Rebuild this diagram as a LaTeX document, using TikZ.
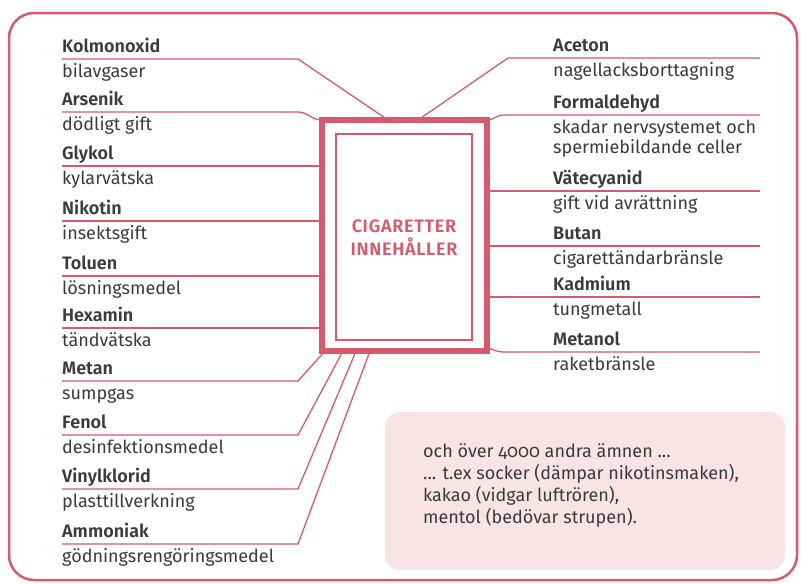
\documentclass[tikz,border=0pt]{standalone}
\usepackage{fontspec}
\setmainfont{Fira Sans}[Numbers=OldStyle, BoldFont={Fira Sans SemiBold}]
\usetikzlibrary{calc}

\definecolor{cigred}{HTML}{D6596C}
\definecolor{ink}{HTML}{3A3A3C}
\definecolor{notepink}{HTML}{F8E4E7}

\begin{document}
\begin{tikzpicture}
[
    x = 1pt, y = -1pt,
    every node/.append style = {font=\fontsize{18}{20}\selectfont, text=ink},
    chem/.style = {anchor=south west, inner sep=0pt, text depth=6pt, font=\fontsize{18}{20}\selectfont\bfseries},
    effect/.style = {anchor=base west, inner sep=0pt, yshift=-18pt, align=left},
    link/.style = {draw=cigred, line width=1.3pt},
    cigbox/.style = {draw=cigred, line width=6pt, outer sep=0pt, minimum width=165.5pt, minimum height=231pt},
    innerbox/.style = {draw=cigred, line width=2pt, minimum width=136pt, minimum height=206pt}]

\useasboundingbox (0,0) rectangle (801,584);
\draw[cigred, line width=2.5pt, rounded corners=25pt] (9,13) rectangle (797,580);

% the pack in the middle
\node[cigbox] (box) at (404.25,235.5) {};
\node[innerbox] (inner) at (404,237) {};
\node[align=center, text=cigred, font=\fontsize{18}{23}\selectfont\bfseries\addfontfeature{LetterSpace=4}] (title) at (404,238) {CIGARETTER\\INNEHÅLLER};

\coordinate (lbend) at (298,0);
\coordinate (redge) at (760,0);

% left column
\node[chem] (kol) at (62,59) {Kolmonoxid};
\node[effect] (kold) at (kol.south west) {bilavgaser};
\node[chem] (ars) at (62,112) {Arsenik};
\node[effect] (arsd) at (ars.south west) {dödligt gift};
\node[chem] (gly) at (62,166) {Glykol};
\node[effect] (glyd) at (gly.south west) {kylarvätska};
\node[chem] (nik) at (62,221) {Nikotin};
\node[effect] (nikd) at (nik.south west) {insektsgift};
\node[chem] (tol) at (62,276) {Toluen};
\node[effect] (told) at (tol.south west) {lösningsmedel};
\node[chem] (hex) at (62,328) {Hexamin};
\node[effect] (hexd) at (hex.south west) {tändvätska};
\node[chem] (mea) at (62,381) {Metan};
\node[effect] (mead) at (mea.south west) {sumpgas};
\node[chem] (fen) at (62,435) {Fenol};
\node[effect] (fend) at (fen.south west) {desinfektionsmedel};
\node[chem] (vin) at (62,489) {Vinylklorid};
\node[effect] (vind) at (vin.south west) {plasttillverkning};
\node[chem] (amm) at (62,544) {Ammoniak};
\node[effect] (ammd) at (amm.south west) {gödningsrengöringsmedel};

% right column
\node[chem] (ace) at (553,58) {Aceton};
\node[effect] (aced) at (ace.south west) {nagellacksborttagning};
\node[chem] (for) at (553,115) {Formaldehyd};
\node[effect, yshift=-20pt] (ford) at (for.south west) {skadar nervsystemet och\\spermiebildande celler};
\node[chem] (vat) at (553,191) {Vätecyanid};
\node[effect] (vatd) at (vat.south west) {gift vid avrättning};
\node[chem] (but) at (553,246) {Butan};
\node[effect] (butd) at (but.south west) {cigarettändarbränsle};
\node[chem] (kad) at (553,297) {Kadmium};
\node[effect] (kadd) at (kad.south west) {tungmetall};
\node[chem] (men) at (553,352) {Metanol};
\node[effect] (mend) at (men.south west) {raketbränsle};

% connectors, left
\draw[link] (kol.south west) -- (lbend |- kol.south west) -- ($(box.north west)+(66.5,0)$);
\draw[link] (ars.south west) -- (lbend |- ars.south west) to[out=0,in=180] (box.north west);
\draw[link] (gly.south west) -- (gly.south west -| box.west);
\draw[link] (nik.south west) -- (nik.south west -| box.west);
\draw[link] (tol.south west) -- (tol.south west -| box.west);
\draw[link] (hex.south west) -- (hex.south west -| box.west);
\draw[link] (mea.south west) -- (lbend |- mea.south west) -- ($(box.south west)+(3.5,0)$);
\draw[link] (fen.south west) -- (lbend |- fen.south west) -- ($(box.south west)+(21.5,0)$);
\draw[link] (vin.south west) -- (lbend |- vin.south west) -- ($(box.south west)+(34.5,0)$);
\draw[link] (amm.south west) -- (lbend |- amm.south west) -- ($(box.south west)+(48.5,0)$);

% connectors, right
\draw[link] ($(box.north west)+(96.5,0)$) -- ($(ace.south west)+(-45,0)$) -- (redge |- ace.south west);
\draw[link] (box.north east) to[out=0,in=180] ($(box.north east)+(16,-5)$) -- (redge |- for.south west);
\draw[link] (box.east |- vat.south west) -- (redge |- vat.south west);
\draw[link] (box.east |- but.south west) -- (redge |- but.south west);
\draw[link] (box.east |- kad.south west) -- (redge |- kad.south west);
\draw[link] ($(box.south east)+(0,-3)$) to[out=-10,in=180] ($(box.south east)+(16,1)$) -- (redge |- men.south west);

% note box
\node[fill=notepink, rounded corners=15pt, inner sep=0pt, minimum width=400pt, minimum height=158pt] (note) at (585,491) {};
\node[anchor=north west, inner sep=0pt, align=left, font=\fontsize{18}{22}\selectfont] (notetext) at (423,443)
    {och över 4000 andra ämnen ...\\... t.ex socker (dämpar nikotinsmaken),\\kakao (vidgar luftrören),\\mentol (bedövar strupen).};

\end{tikzpicture}
\end{document}
